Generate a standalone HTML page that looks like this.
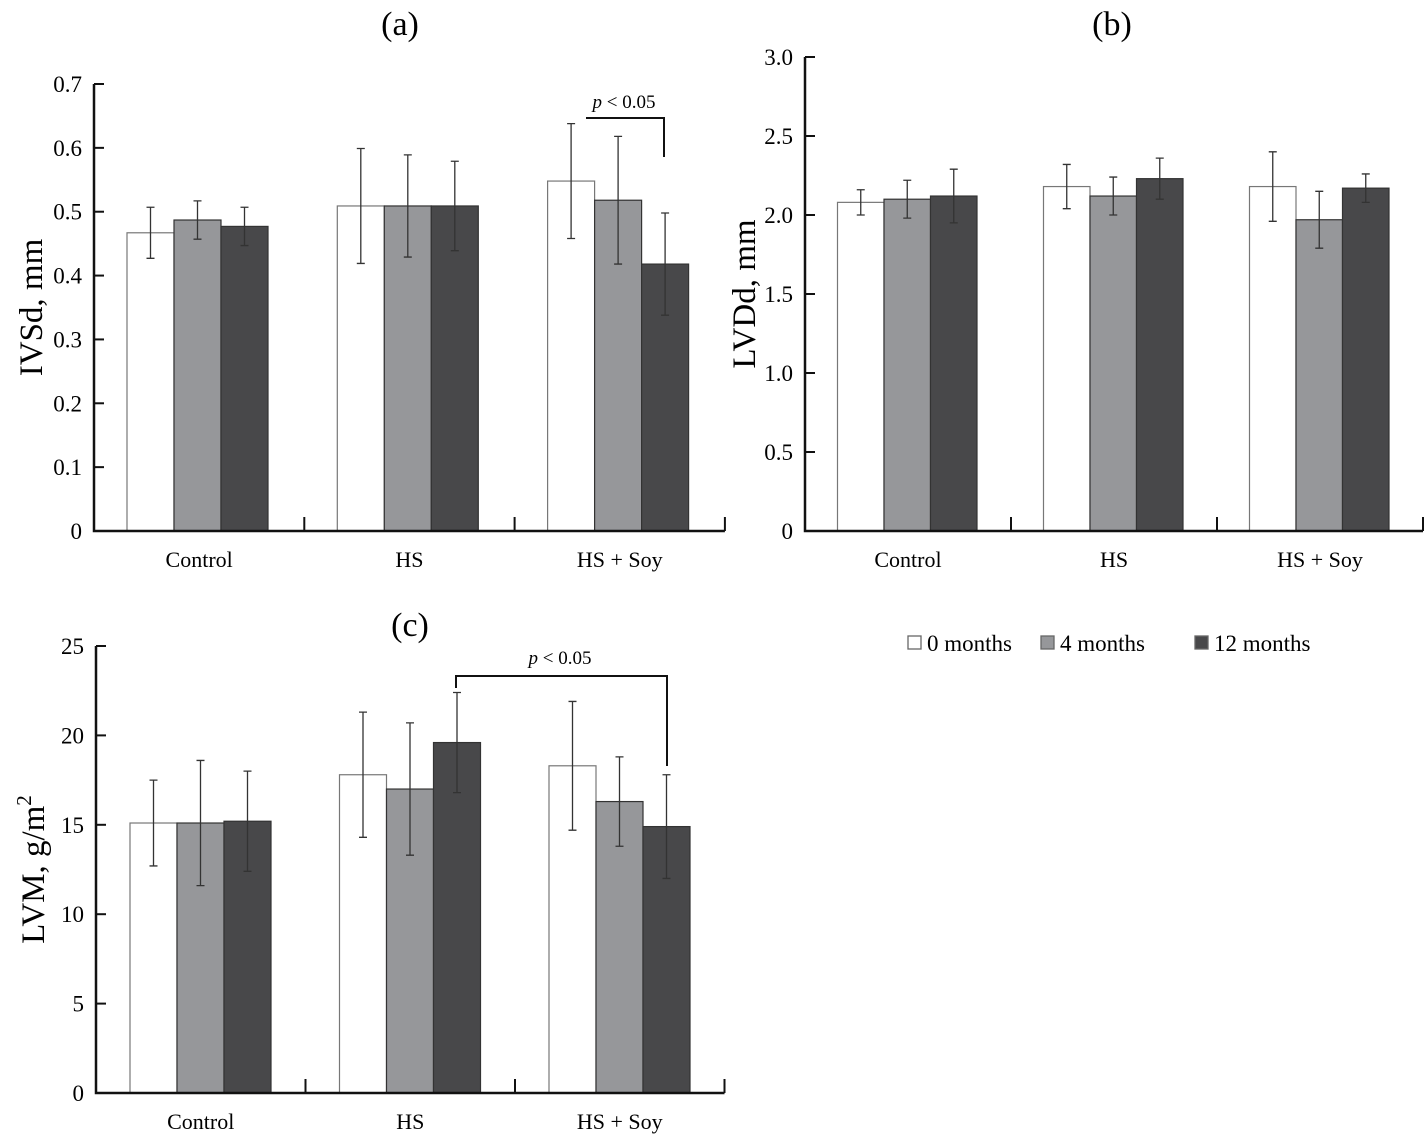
<!DOCTYPE html>
<html><head><meta charset="utf-8">
<style>
html,body{margin:0;padding:0;background:#fff;}
svg{display:block;font-family:"Liberation Serif",serif;}
</style></head>
<body>
<svg id="fig" width="1424" height="1136" viewBox="0 0 1424 1136" xmlns="http://www.w3.org/2000/svg"></svg>
<script>
const categories = ["Control", "HS", "HS + Soy"];
const seriesNames = ["0 months", "4 months", "12 months"];
const colors = ["#ffffff", "#96979a", "#48484a"];

const aMeans = [[0.467, 0.487, 0.477], [0.509, 0.509, 0.509], [0.548, 0.518, 0.418]];
const aErrs  = [[0.04, 0.03, 0.03], [0.09, 0.08, 0.07], [0.09, 0.10, 0.08]];
const aTicks = [0, 0.1, 0.2, 0.3, 0.4, 0.5, 0.6, 0.7];
const aTickLabels = ["0", "0.1", "0.2", "0.3", "0.4", "0.5", "0.6", "0.7"];

const bMeans = [[2.08, 2.10, 2.12], [2.18, 2.12, 2.23], [2.18, 1.97, 2.17]];
const bErrs  = [[0.08, 0.12, 0.17], [0.14, 0.12, 0.13], [0.22, 0.18, 0.09]];
const bTicks = [0, 0.5, 1.0, 1.5, 2.0, 2.5, 3.0];
const bTickLabels = ["0", "0.5", "1.0", "1.5", "2.0", "2.5", "3.0"];

const cMeans = [[15.1, 15.1, 15.2], [17.8, 17.0, 19.6], [18.3, 16.3, 14.9]];
const cErrs  = [[2.4, 3.5, 2.8], [3.5, 3.7, 2.8], [3.6, 2.5, 2.9]];
const cTicks = [0, 5, 10, 15, 20, 25];
const cTickLabels = ["0", "5", "10", "15", "20", "25"];

const NS = "http://www.w3.org/2000/svg";
const svg = document.getElementById("fig");
function mk(tag, attrs, parent, text) {
  const e = document.createElementNS(NS, tag);
  for (const k in attrs) e.setAttribute(k, attrs[k]);
  if (text !== undefined) e.textContent = text;
  (parent || svg).appendChild(e);
  return e;
}

function panel(cfg) {
  const g = mk("g", {});
  
  
  const y = v => cfg.y0 - (v - cfg.min) / (cfg.max - cfg.min) * (cfg.y0 - cfg.yTop);
  const gx = i => cfg.x0 + i * cfg.gw;
  cfg.means.forEach((grp, i) => {
    grp.forEach((v, j) => {
      const bx = gx(i) + cfg.off + j * cfg.bw;
      const r = mk("rect", {x: bx, y: y(v), width: cfg.bw, height: cfg.y0 - y(v), fill: colors[j], stroke: j === 0 ? "#777" : "#333", "stroke-width": 1.2}, g);
      
      
      const cx = bx + cfg.bw / 2, e = cfg.errs[i][j];
      const eb = mk("path", {d: `M${cx},${y(v + e)}V${y(v - e)}M${cx - 4},${y(v + e)}H${cx + 4}M${cx - 4},${y(v - e)}H${cx + 4}`, stroke: "#333", "stroke-width": 1.3, fill: "none"}, g);
      
      
    });
    const lab = mk("text", {x: gx(i) + cfg.gw / 2, y: cfg.y0 + 36, "text-anchor": "middle", "font-size": 22}, g, categories[i]);
    
    
  });
  const xEnd = gx(categories.length);
  const ax = mk("path", {d: `M${cfg.x0},${cfg.yTop}V${cfg.y0}H${xEnd}`, stroke: "#111", "stroke-width": 2.5, fill: "none"}, g);
  
  
  for (let i = 1; i <= categories.length; i++) {
    mk("line", {x1: gx(i), x2: gx(i), y1: cfg.y0, y2: cfg.y0 - 14, stroke: "#111", "stroke-width": 2}, g);
  }
  cfg.ticks.forEach((t, k) => {
    mk("line", {x1: cfg.x0, x2: cfg.x0 + 10, y1: y(t), y2: y(t), stroke: "#111", "stroke-width": 2}, g);
    const tl = mk("text", {x: cfg.x0 - 12, y: y(t) + 8, "text-anchor": "end", "font-size": 23}, g, cfg.tickLabels[k]);
    
    
  });
  const yt = mk("text", {x: cfg.ytx, y: (cfg.y0 + cfg.yTop) / 2, "text-anchor": "middle", "font-size": 33, transform: `rotate(-90 ${cfg.ytx} ${(cfg.y0 + cfg.yTop) / 2})`}, g);
  
  
  yt.innerHTML = cfg.ytitle;
  const tt = mk("text", {x: cfg.titleX, y: cfg.titleY, "text-anchor": "middle", "font-size": 34}, g, cfg.title);
  
  
  return {y, gx, g};
}

panel({name: "panel-a", key: "a", x0: 94, y0: 531, yTop: 84, min: 0, max: 0.7, gw: 210.3, off: 33, bw: 47,
  means: aMeans, errs: aErrs, ticks: aTicks, tickLabels: aTickLabels, ytx: 42, ytitle: "IVSd, mm", title: "(a)", titleX: 400, titleY: 35});
panel({name: "panel-b", key: "b", x0: 805, y0: 531, yTop: 57, min: 0, max: 3.0, gw: 206, off: 32.5, bw: 46.5,
  means: bMeans, errs: bErrs, ticks: bTicks, tickLabels: bTickLabels, ytx: 755, ytitle: "LVDd, mm", title: "(b)", titleX: 1112, titleY: 35});
panel({name: "panel-c", key: "c", x0: 96, y0: 1093, yTop: 646, min: 0, max: 25, gw: 209.5, off: 34, bw: 47,
  means: cMeans, errs: cErrs, ticks: cTicks, tickLabels: cTickLabels, ytx: 44, ytitle: 'LVM, g/m<tspan dy="-13" font-size="21">2</tspan>', title: "(c)", titleX: 410, titleY: 636});

const br1 = mk("path", {d: "M586,118H664V157", stroke: "#111", "stroke-width": 2, fill: "none"});


const p1 = mk("text", {x: 624, y: 108, "text-anchor": "middle", "font-size": 19});


p1.innerHTML = '<tspan font-style="italic">p</tspan> &lt; 0.05';
const br2 = mk("path", {d: "M456,688V676H667V766", stroke: "#111", "stroke-width": 2, fill: "none"});


const p2 = mk("text", {x: 560, y: 664, "text-anchor": "middle", "font-size": 19});


p2.innerHTML = '<tspan font-style="italic">p</tspan> &lt; 0.05';

const legX = [908, 1041, 1195];
seriesNames.forEach((n, j) => {
  const r = mk("rect", {x: legX[j], y: 636, width: 13, height: 13, fill: colors[j], stroke: "#666", "stroke-width": 1.3});
  
  
  const t = mk("text", {x: legX[j] + 19, y: 651, "font-size": 23}, svg, n);
  
  
});
</script>
</body></html>
